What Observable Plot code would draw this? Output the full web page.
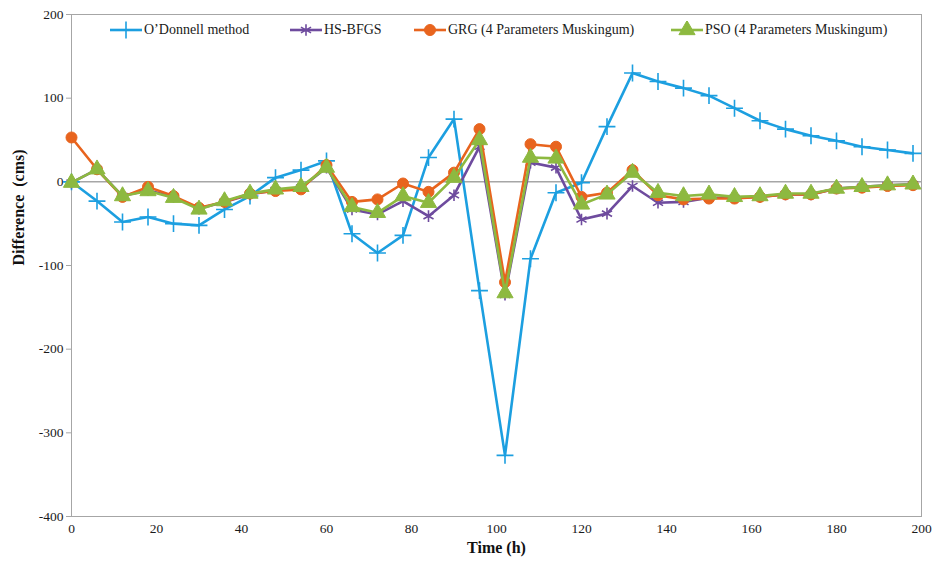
<!DOCTYPE html>
<html><head><meta charset="utf-8">
<script src="https://cdn.jsdelivr.net/npm/d3@7"></script>
<script src="https://cdn.jsdelivr.net/npm/@observablehq/plot@0.6"></script>
<style>
body{margin:0;background:#fff;}
#wrap{position:relative;width:938px;height:564px;font-family:"Liberation Serif","Times New Roman",serif;}
#wrap svg, #wrap svg text{font-family:"Liberation Serif","Times New Roman",serif !important;}
.item{position:absolute;top:21px;height:18px;display:flex;align-items:center;font-size:14px;white-space:nowrap;color:#1a1a1a;}
.item svg{margin-right:2px;}
</style></head><body><div id="wrap"></div>
<script>
const times = [0,6,12,18,24,30,36,42,48,54,60,66,72,78,84,90,96,102,108,114,120,126,132,138,144,150,156,162,168,174,180,186,192,198];
const odonnell = [0,-23,-48,-42,-50,-52,-33,-17,5,14,25,-62,-85,-64,29,75,-130,-327,-92,-13,-1,66,130,120,112,103,88,73,63,55,49,42,38,34];
const hsbfgs = [-1,15,-17,-10,-18,-32,-24,-15,-10,-7,17,-33,-39,-23,-41,-16,42,-135,23,17,-45,-38,-5,-25,-24,-19,-19,-18,-15,-15,-8,-6,-4,-3];
const grg = [53,15,-18,-6,-17,-31,-24,-14,-11,-9,20,-24,-21,-2,-12,11,63,-120,45,42,-18,-13,14,-16,-21,-20,-20,-18,-15,-15,-8,-7,-5,-4];
const pso = [-1,15,-17,-11,-19,-33,-23,-14,-9,-6,17,-30,-37,-17,-25,5,50,-133,29,28,-27,-15,11,-13,-17,-15,-18,-17,-14,-14,-8,-6,-4,-3];
const seriesNames = ["O\u2019Donnell method","HS-BFGS","GRG (4 Parameters Muskingum)","PSO (4 Parameters Muskingum)"];
const xTicks = [0,20,40,60,80,100,120,140,160,180,200];
const yTicks = [-400,-300,-200,-100,0,100,200];

const colors = ["#1C9FE0","#6E4B9E","#E8641E","#8DB940"];
const symbols = ["plus","asterisk","circle","triangle"];
const values = [odonnell, hsbfgs, grg, pso];
const legendLeft = [110, 290, 414, 671];

const rows = values.map(v => times.map((t,i) => ({t, v: v[i]})));
const font = "Liberation Serif, Times New Roman, serif";

const marks = [
  Plot.frame({stroke:"#a6a6a6"}),
  Plot.ruleY([0], {stroke:"#a6a6a6", strokeWidth:1.5}),
  Plot.axisY(yTicks, {tickSize:5, tickFormat: d => String(d), fontSize:13.5, stroke:"#a6a6a6", tickPadding:3, label:null}),
  Plot.axisX(xTicks, {tickSize:0, tickPadding:7, fontSize:13.5, label:null}),
];
rows.forEach((r,k) => {
  marks.push(Plot.line(r, {x:"t", y:"v", stroke: colors[k], strokeWidth:2.6}));
  const filled = k >= 2;
  marks.push(Plot.dot(r, {x:"t", y:"v", symbol: symbols[k], r: k===3?6:5.5,
    fill: filled ? colors[k] : "none", stroke: colors[k], strokeWidth: filled ? 1 : 1.6}));
});
marks.push(Plot.text(["Difference  (cms)"], {frameAnchor:"left", dx:-53, rotate:-90, fontWeight:"bold", fontSize:16, fontFamily:font, fill:"#111"}));
marks.push(Plot.text(["Time (h)"], {frameAnchor:"bottom", dy:36, fontWeight:"bold", fontSize:16, fontFamily:font, fill:"#111"}));

const chart = Plot.plot({
  width:938, height:564,
  marginLeft:71, marginRight:17, marginTop:14, marginBottom:48,
  style:{fontFamily:font, fontSize:"13.5px", color:"#1a1a1a", background:"#fff"},
  x:{domain:[0,200], label:null},
  y:{domain:[-400,200], label:null},
  marks
});
const wrap = document.getElementById("wrap");
wrap.appendChild(chart);

const symMap = {plus:d3.symbolPlus, asterisk:d3.symbolAsterisk, circle:d3.symbolCircle, triangle:d3.symbolTriangle};
seriesNames.forEach((name,k) => {
  const div = document.createElement("div");
  div.className = "item";
  div.style.left = legendLeft[k] + "px";
  const r = k===3?6:5.5;
  const filled = k >= 2;
  const path = d3.symbol().type(symMap[symbols[k]]).size(Math.PI*r*r)();
  div.innerHTML = `<svg width="32" height="18"><line x1="0" x2="32" y1="9" y2="9" stroke="${colors[k]}" stroke-width="2.6"/>`+
    `<path transform="translate(16,9)" d="${path}" fill="${filled?colors[k]:"none"}" stroke="${colors[k]}" stroke-width="${filled?1:1.6}"/></svg><span>${name}</span>`;
  wrap.appendChild(div);
});
</script></body></html>
